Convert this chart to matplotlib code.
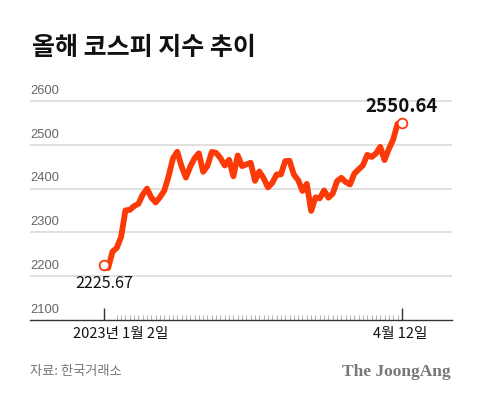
import matplotlib.pyplot as plt
from matplotlib import transforms

plt.rcParams['font.family'] = ['Noto Sans CJK KR', 'DejaVu Sans']

# KOSPI closes, 2023-01-02 .. 2023-04-12 (trading days)
jan = [2225.67, 2218.68, 2255.98, 2264.65, 2289.97, 2350.19, 2351.31, 2359.88, 2365.10, 2386.09,
       2399.86, 2379.39, 2368.32, 2380.34, 2395.26, 2428.57, 2468.65, 2484.02, 2450.47, 2425.08]
feb = [2449.80, 2468.88, 2480.40, 2438.19, 2451.71, 2483.64, 2481.52, 2469.49, 2452.70, 2465.64,
       2427.90, 2475.48, 2451.21, 2455.12, 2458.96, 2417.68, 2439.01, 2423.61, 2402.64, 2412.85]
mar = [2432.07, 2432.39, 2462.62, 2463.35, 2431.91, 2419.09, 2394.59, 2410.60, 2348.97, 2379.72,
       2377.91, 2395.69, 2379.19, 2388.35, 2416.96, 2424.48, 2414.96, 2409.22, 2434.13, 2443.85,
       2453.16, 2476.86]
apr = [2472.00, 2480.00, 2495.23, 2465.07, 2490.41, 2512.08, 2547.86, 2550.64]
values = jan + feb + mar + apr
days = list(range(len(values)))

yticks = [2100, 2200, 2300, 2400, 2500, 2600]
first_label = '2023년 1월 2일'
last_label = '4월 12일'
title = '올해 코스피 지수 추이'
source = '자료: 한국거래소'

red = '#fc3a08'

fig = plt.figure(figsize=(4.8, 3.99), dpi=100)
ax = fig.add_axes([0.0625, 0.198, 0.879, 0.571])

for y in yticks[1:]:
    ax.axhline(y, color='#dddddd', lw=1.3, zorder=1)

ax.plot(days, values, color=red, lw=4.2, solid_joinstyle='round', solid_capstyle='round', zorder=3)
ax.plot([days[0], days[-1]], [values[0], values[-1]], 'o', ms=7, mfc='white', mec=red, mew=1.3, zorder=4)

ax.set_xlim(-17.1, 80.6)
ax.set_ylim(2100, 2620)

for s in ['top', 'right', 'left']:
    ax.spines[s].set_visible(False)
ax.spines['bottom'].set_color('#333333')
ax.spines['bottom'].set_linewidth(1.0)

ax.set_yticks([])
ax.set_xticks([days[0], days[-1]])
ax.set_xticklabels([])
ax.set_xticks(days[3:-1], minor=True)
ax.tick_params(axis='x', which='major', direction='in', length=8.5, width=1.0, color='#333333')
ax.tick_params(axis='x', which='minor', direction='in', length=3.6, width=0.8, color='#b5b5b5')

tr = transforms.blended_transform_factory(ax.transAxes, ax.transData)
for y in yticks:
    ax.annotate(str(y), (0, y), xycoords=tr, xytext=(0, 3), textcoords='offset points',
                ha='left', va='bottom', fontsize=9.3, color='#666666', family=['Liberation Sans'])

ax.annotate(f'{values[0]:.2f}', (days[0], values[0]), xytext=(0, -7), textcoords='offset points',
            ha='center', va='top', fontsize=11.6, fontweight='medium', color='#111111')
ax.annotate(f'{values[-1]:.2f}', (days[-1], values[-1]), xytext=(0, 5), textcoords='offset points',
            ha='center', va='bottom', fontsize=13.4, fontweight='bold', color='#111111')

ax.annotate(first_label, (days[0], 2100), xytext=(12, -5), textcoords='offset points',
            ha='center', va='top', fontsize=10.5, fontweight='medium', color='#111111')
ax.annotate(last_label, (days[-1], 2100), xytext=(-1, -5), textcoords='offset points',
            ha='center', va='top', fontsize=10.5, fontweight='medium', color='#111111')

fig.text(32 / 480, 1 - 48 / 399, title, fontsize=18, fontweight='black', color='#111111',
         ha='left', va='center')
fig.text(30 / 480, 1 - 372 / 399, source, fontsize=9.5, color='#777777', ha='left', va='center')
fig.text(451 / 480, 1 - 372 / 399, 'The JoongAng', fontsize=12.5, fontweight='bold',
         color='#777777', ha='right', va='center', family=['Liberation Serif'])

fig.savefig('out.png', dpi=100, facecolor='white')
